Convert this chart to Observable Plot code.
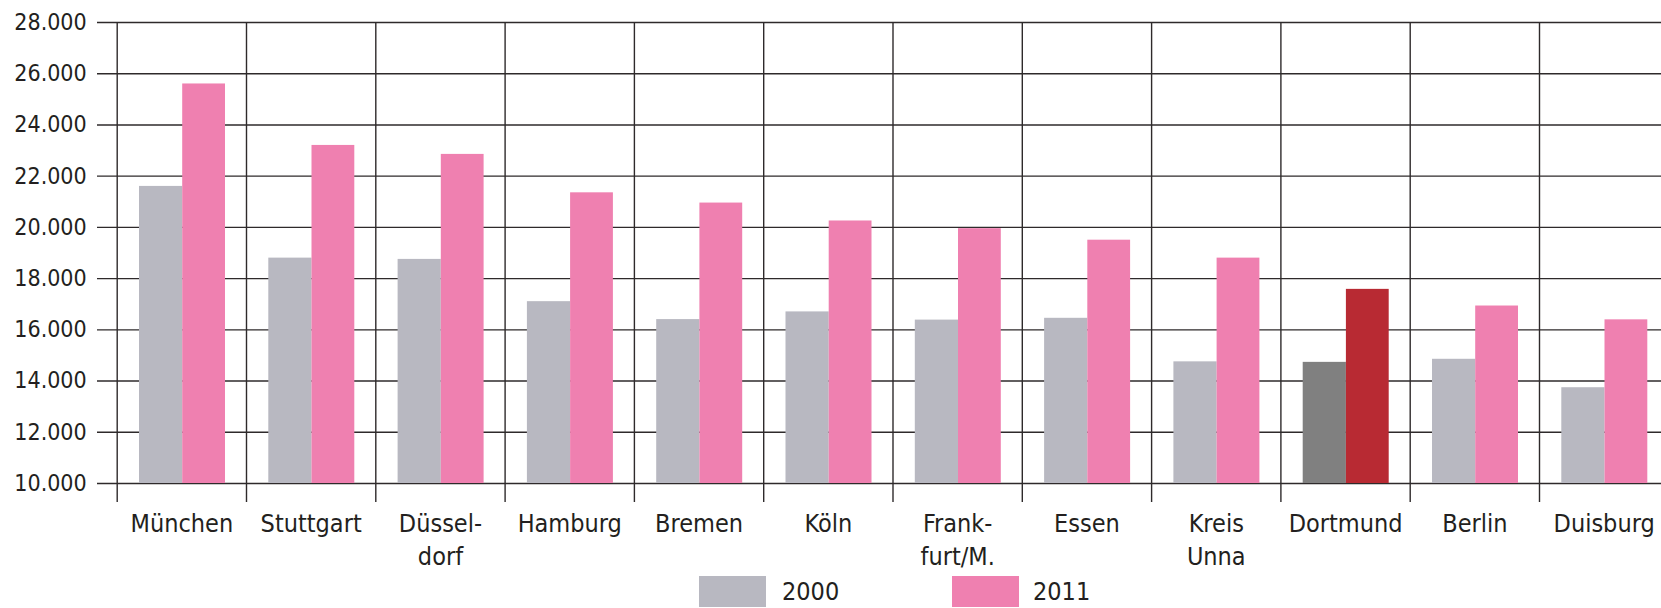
<!DOCTYPE html>
<html>
<head>
<meta charset="utf-8">
<script src="https://cdn.jsdelivr.net/npm/d3@7"></script>
<script src="https://cdn.jsdelivr.net/npm/@observablehq/plot@0.6"></script>
<style>
  body { margin: 0; background: #fff; font-family: "Liberation Sans Narrow", "DejaVu Sans Condensed", sans-serif; }
  #chart svg { display: block; overflow: hidden; }
  #legend { position: relative; width: 1661px; height: 38px; color: #231f20; font-size: 25px; }
  .sw { position: absolute; top: 6px; width: 67px; height: 31px; }
  .lt { position: absolute; top: 6px; height: 31px; line-height: 31px; }
</style>
</head>
<body>
<div id="chart"></div>
<div id="legend"></div>
<script>
const cities = ["München","Stuttgart","Düsseldorf","Hamburg","Bremen","Köln","Frankfurt/M.","Essen","Kreis Unna","Dortmund","Berlin","Duisburg"];
const cityLabels = ["München","Stuttgart","Düssel-\ndorf","Hamburg","Bremen","Köln","Frank-\nfurt/M.","Essen","Kreis\nUnna","Dortmund","Berlin","Duisburg"];
const values2000 = [21600,18800,18750,17100,16400,16700,16380,16450,14750,14730,14850,13740];
const values2011 = [25600,23200,22850,21350,20950,20250,19950,19500,18800,17580,16930,16390];
const yTicks = [10000,12000,14000,16000,18000,20000,22000,24000,26000,28000];
const years = ["2000","2011"];
const highlightCity = "Dortmund";
const colorKeys = ["2000","2011","2000 Dortmund","2011 Dortmund"];
const colorRange = ["#b8b8c1","#ef80b0","#808080","#b82a33"];

const rows = [];
cities.forEach((c, i) => {
  rows.push({city: c, year: "2000", value: values2000[i], key: c === highlightCity ? "2000 Dortmund" : "2000"});
  rows.push({city: c, year: "2011", value: values2011[i], key: c === highlightCity ? "2011 Dortmund" : "2011"});
});
const labelOf = new Map(cities.map((c, i) => [c, cityLabels[i]]));

const W = 1661, H = 570;
const mL = 116.7, bw = 129.3;
const mR = W - (mL + bw * cities.length);
const lineColor = "#2e2a2b";
const textColor = "#231f20";
const font = "'Liberation Sans Narrow','DejaVu Sans Condensed',sans-serif";

const chart = Plot.plot({
  width: W,
  height: H,
  marginLeft: mL,
  marginRight: mR,
  marginTop: 22,
  marginBottom: 87,
  style: {fontFamily: font, color: textColor, background: "#fff"},
  x: {type: "band", domain: cities, padding: 0, round: false, axis: null, label: null},
  y: {domain: [10000, 28000], axis: null, label: null},
  color: {type: "ordinal", domain: colorKeys, range: colorRange},
  marks: [
    Plot.ruleY(yTicks, {y: d => d, stroke: lineColor, strokeWidth: 1.4, insetLeft: -19.7}),
    Plot.ruleX(cities, {x: d => d, y1: 28000, y2: 10000, dx: -bw / 2, stroke: lineColor, strokeWidth: 1.4, insetBottom: -19}),
    Plot.barY(rows.filter(d => d.year === "2000"), {x: "city", y1: 10000, y2: "value", fill: "key", insetLeft: 22.3, insetRight: 63.8}),
    Plot.barY(rows.filter(d => d.year === "2011"), {x: "city", y1: 10000, y2: "value", fill: "key", insetLeft: 65.5, insetRight: 21}),
    Plot.axisY(yTicks, {tickSize: 0, tickPadding: 30.5, fontSize: 23, fill: textColor, label: null, tickFormat: d => d.toLocaleString("de-DE")}),
    Plot.axisX({tickSize: 0, tickPadding: 25, fontSize: 25, lineHeight: 1.32, fill: textColor, label: null, tickFormat: d => labelOf.get(d)})
  ]
});
document.getElementById("chart").appendChild(chart);

const legend = document.getElementById("legend");
const legendItems = [
  {label: years[0], color: colorRange[0], sx: 699, tx: 782},
  {label: years[1], color: colorRange[1], sx: 952, tx: 1033}
];
legendItems.forEach(it => {
  const s = document.createElement("div");
  s.className = "sw"; s.style.left = it.sx + "px"; s.style.background = it.color;
  legend.appendChild(s);
  const t = document.createElement("div");
  t.className = "lt"; t.style.left = it.tx + "px"; t.textContent = it.label;
  legend.appendChild(t);
});
</script>
</body>
</html>
